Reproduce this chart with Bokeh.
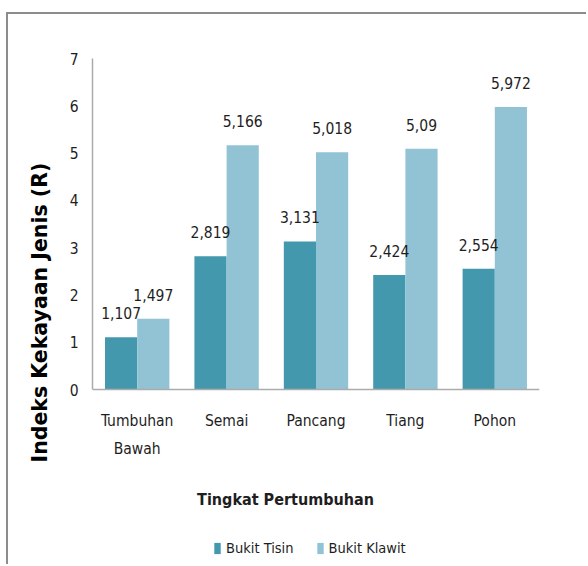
import math
from bokeh.plotting import figure
from bokeh.models import (Range1d, ColumnDataSource, Legend, LegendItem, FixedTicker,
                          Title, Label)
from bokeh.embed import file_html
from bokeh.resources import INLINE
from bokeh.core.properties import value

# ---- data ----
categories = ["Tumbuhan Bawah", "Semai", "Pancang", "Tiang", "Pohon"]
tick_labels = ["Tumbuhan\nBawah", "Semai", "Pancang", "Tiang", "Pohon"]
bukit_tisin = [1.107, 2.819, 3.131, 2.424, 2.554]
bukit_klawit = [1.497, 5.166, 5.018, 5.09, 5.972]
y_ticks = [0, 1, 2, 3, 4, 5, 6, 7]
series_names = ["Bukit Tisin", "Bukit Klawit"]
x_title = "Tingkat Pertumbuhan"
y_title = "Indeks Kekayaan Jenis (R)"


def fmt(v):
    return f"{v:g}".replace(".", ",")


n = len(categories)
xpos = [i + 0.5 for i in range(n)]   # category centres on a numeric scale
bw = 0.36
src = ColumnDataSource(dict(
    x1=[x - bw / 2 for x in xpos],
    x2=[x + bw / 2 for x in xpos],
    tisin=bukit_tisin,
    klawit=bukit_klawit,
    tisin_lbl=[fmt(v) for v in bukit_tisin],
    klawit_lbl=[fmt(v) for v in bukit_klawit],
))

DARK = "#4398AE"
LIGHT = "#92C3D5"
TXT = "#1e1e1e"
NARROW = "'DejaVu Sans Condensed', Lato, sans-serif"

# ---- geometry (pixels) ----
W, H = 580, 552
LEFT, RIGHT, TOP = 84, 49, 44
AXIS_Y = 375                     # pixel row of the value 0 (x axis)
YMAX = max(y_ticks)
ppu = (AXIS_Y - TOP) / YMAX      # pixels per unit
ymin = -(H - AXIS_Y) / ppu       # frame reaches the bottom of the canvas

p = figure(
    width=W, height=H,
    x_range=Range1d(0, n),
    y_range=Range1d(ymin, YMAX),
    output_backend="svg", toolbar_location=None, tools="",
    min_border_left=LEFT, min_border_right=RIGHT, min_border_top=TOP, min_border_bottom=0,
)
p.styles = {"margin-left": "6px", "margin-top": "12px",
            "border-left": "2px solid #8c8c8c", "border-top": "2px solid #8c8c8c"}
p.outline_line_color = None
p.xgrid.grid_line_color = None
p.ygrid.grid_line_color = None
p.background_fill_color = "white"
p.border_fill_color = "white"

r1 = p.vbar(x="x1", top="tisin", width=bw, source=src, fill_color=DARK, line_color=None)
r2 = p.vbar(x="x2", top="klawit", width=bw, source=src, fill_color=LIGHT, line_color=None)

for xcol, col, lbl in (("x1", "tisin", "tisin_lbl"), ("x2", "klawit", "klawit_lbl")):
    p.text(x=xcol, y=col, text=lbl, source=src,
           text_align="center", text_baseline="alphabetic", y_offset=-24,
           text_font=value(NARROW), text_font_size="15.5px", text_color=TXT)

# axes
for ax in (p.xaxis[0], p.yaxis[0]):
    ax.major_tick_line_color = None
    ax.minor_tick_line_color = None
    ax.major_tick_out = 0
    ax.major_tick_in = 0
    ax.axis_line_color = "#ababab"
    ax.axis_line_width = 1.5
    ax.major_label_text_font = NARROW
    ax.major_label_text_font_size = "15.5px"
    ax.major_label_text_color = TXT

p.yaxis.ticker = FixedTicker(ticks=y_ticks)
p.yaxis.bounds = (0, YMAX)
p.yaxis.major_label_standoff = 14
p.xaxis.fixed_location = 0
p.xaxis.ticker = FixedTicker(ticks=xpos)
p.xaxis.major_label_standoff = 22
p.xaxis.major_label_text_line_height = 1.6
p.xaxis.major_label_overrides = {x: t for x, t in zip(xpos, tick_labels)}

# y title (extends below the axis like the original)
p.add_layout(Title(text=y_title, align="left", offset=104, standoff=30,
                   text_font="DejaVu Sans", text_font_style="bold",
                   text_font_size="20.5px", text_color="black"), "left")

# x title
p.add_layout(Label(x=2.159, y=-(485 - AXIS_Y) / ppu, text=x_title,
                   text_align="center", text_baseline="alphabetic",
                   text_font=NARROW, text_font_style="bold",
                   text_font_size="16px", text_color=TXT))

legend = Legend(items=[LegendItem(label=series_names[0], renderers=[r1]),
                       LegendItem(label=series_names[1], renderers=[r2])],
                location=(121, 10), orientation="horizontal",
                glyph_width=8, glyph_height=14, label_standoff=5, spacing=22,
                padding=0, margin=0, border_line_color=None,
                background_fill_alpha=0,
                label_text_font=NARROW, label_text_font_size="14.5px",
                label_text_color=TXT)
p.add_layout(legend, "center")

open("out.html", "w").write(file_html(p, INLINE))
